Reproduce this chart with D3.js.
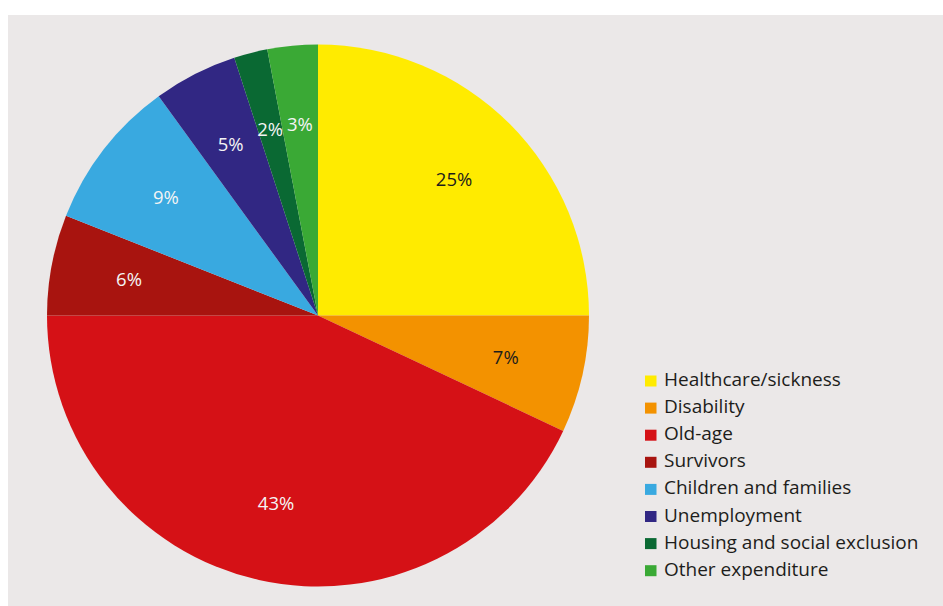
<!DOCTYPE html>
<html>
<head>
<meta charset="utf-8">
<script src="https://cdn.jsdelivr.net/npm/d3@7"></script>
<style>
  html, body { margin: 0; padding: 0; background: #ffffff; }
  svg { display: block; }
  text { font-family: "Open Sans", "Noto Sans", sans-serif; }
</style>
</head>
<body>
<svg id="chart" width="943" height="606"></svg>
<script>
// Social protection expenditure by function (share of total, %)
const categories = [
  "Healthcare/sickness",
  "Disability",
  "Old-age",
  "Survivors",
  "Children and families",
  "Unemployment",
  "Housing and social exclusion",
  "Other expenditure"
];
const shares = [25, 7, 43, 6, 9, 5, 2, 3];
const colors = ["#ffeb00", "#f39200", "#d51116", "#a8140f", "#39a9e0", "#312783", "#0a6933", "#3aa935"];
const labelColors = ["#1d1d1b", "#1d1d1b", "#f4f4f4", "#f4f4f4", "#f4f4f4", "#f4f4f4", "#f4f4f4", "#f4f4f4"];

const W = 943, H = 606;
const svg = d3.select("#chart");

// panel background
svg.append("rect")
  .attr("x", 8).attr("y", 15)
  .attr("width", W - 8).attr("height", H - 15)
  .attr("fill", "#ebe8e8");

const cx = 318, cy = 315.5, radius = 271;

const data = categories.map((c, i) => ({ name: c, value: shares[i], color: colors[i], labelColor: labelColors[i] }));

const pie = d3.pie().value(d => d.value).sort(null);
const arc = d3.arc().innerRadius(0).outerRadius(radius);
const labelArc = d3.arc().innerRadius(radius * 0.71).outerRadius(radius * 0.71);

const g = svg.append("g").attr("transform", `translate(${cx},${cy})`);
const arcs = pie(data);

g.selectAll("path.slice")
  .data(arcs)
  .join("path")
  .attr("class", "slice")
  .attr("d", arc)
  .attr("fill", d => d.data.color);

g.selectAll("text.pct")
  .data(arcs)
  .join("text")
  .attr("class", "pct")
  .attr("transform", d => `translate(${labelArc.centroid(d)})`)
  .attr("text-anchor", "middle")
  .attr("dy", "0.36em")
  .attr("font-size", 18.5)
  .attr("fill", d => d.data.labelColor)
  .text(d => d3.format("d")(d.data.value) + "%");

// legend
const legend = svg.append("g").attr("transform", "translate(645,386)");
const rowH = 27.1;
const rows = legend.selectAll("g.row")
  .data(data)
  .join("g")
  .attr("class", "row")
  .attr("transform", (d, i) => `translate(0,${i * rowH})`);

rows.append("rect")
  .attr("x", 0).attr("y", -10.5)
  .attr("width", 11.5).attr("height", 11)
  .attr("fill", d => d.color);

rows.append("text")
  .attr("x", 19).attr("y", 0)
  .attr("font-size", 19)
  .attr("fill", "#1d1d1b")
  .text(d => d.name);
</script>
</body>
</html>
